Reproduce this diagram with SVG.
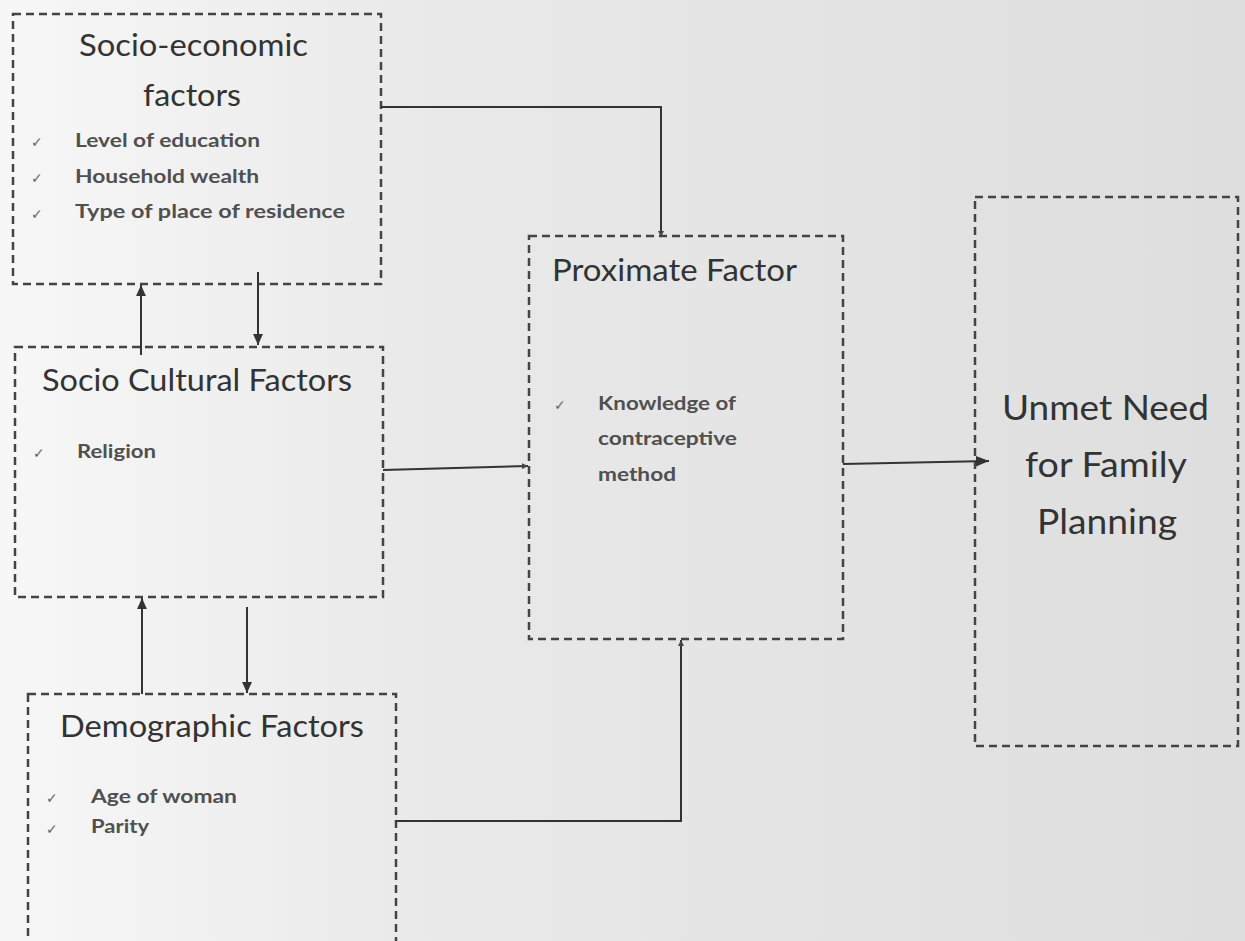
<svg xmlns="http://www.w3.org/2000/svg" width="1245" height="941" viewBox="0 0 1245 941">
<defs>
<linearGradient id="bg" x1="0" y1="0" x2="1" y2="0">
<stop offset="0" stop-color="#f7f7f7"/>
<stop offset="0.35" stop-color="#e9e9e9"/>
<stop offset="1" stop-color="#dedede"/>
</linearGradient>
<marker id="ah" viewBox="0 0 10 10" refX="10" refY="5" markerWidth="11" markerHeight="11" markerUnits="userSpaceOnUse" orient="auto">
<path d="M0,0.5 L10,5 L0,9.5 z" fill="#333"/>
</marker>
<marker id="ahs" viewBox="0 0 10 10" refX="10" refY="5" markerWidth="6" markerHeight="6" markerUnits="userSpaceOnUse" orient="auto">
<path d="M0,0 L10,5 L0,10 z" fill="#444"/>
</marker>
<marker id="ahb" viewBox="0 0 10 10" refX="10" refY="5" markerWidth="13" markerHeight="13" markerUnits="userSpaceOnUse" orient="auto">
<path d="M0,1 L10,5 L0,9 z" fill="#333"/>
</marker>
</defs>
<style>
.box{fill:none;stroke:#444;stroke-width:2.5;stroke-dasharray:8 5}
.title{font-family:Lato,"Liberation Sans",sans-serif;fill:#333;font-size:30px}
.big{font-family:Lato,"Liberation Sans",sans-serif;fill:#333;font-size:35px}
.item{font-family:Lato,"Liberation Sans",sans-serif;fill:#505050;font-size:18px;font-weight:bold}
.chk{font-family:"DejaVu Sans",sans-serif;fill:#666;font-size:14px}
.con{fill:none;stroke:#333;stroke-width:2}
</style>
<rect x="0" y="0" width="1245" height="941" fill="url(#bg)"/>

<g id="socio-economic">
<rect class="box" x="13" y="14" width="368" height="270"/>
<text class="title" x="79" y="56" textLength="229" lengthAdjust="spacingAndGlyphs">Socio-economic</text>
<text class="title" x="143" y="106" textLength="98" lengthAdjust="spacingAndGlyphs">factors</text>
<text class="chk" x="31" y="147">✓</text>
<text class="item" x="75" y="147" textLength="185" lengthAdjust="spacingAndGlyphs">Level of education</text>
<text class="chk" x="31" y="183">✓</text>
<text class="item" x="75" y="183" textLength="184" lengthAdjust="spacingAndGlyphs">Household wealth</text>
<text class="chk" x="31" y="219">✓</text>
<text class="item" x="75" y="218" textLength="270" lengthAdjust="spacingAndGlyphs">Type of place of residence</text>
</g>

<g id="socio-cultural">
<rect class="box" x="15" y="347" width="368" height="250"/>
<text class="title" x="42" y="391" textLength="310" lengthAdjust="spacingAndGlyphs">Socio Cultural Factors</text>
<text class="chk" x="33" y="458">✓</text>
<text class="item" x="77" y="458" textLength="79" lengthAdjust="spacingAndGlyphs">Religion</text>
</g>

<g id="demographic">
<rect class="box" x="28" y="694" width="368" height="260"/>
<text class="title" x="60" y="737" textLength="304" lengthAdjust="spacingAndGlyphs">Demographic Factors</text>
<text class="chk" x="46" y="803">✓</text>
<text class="item" x="91" y="803" textLength="146" lengthAdjust="spacingAndGlyphs">Age of woman</text>
<text class="chk" x="46" y="834">✓</text>
<text class="item" x="91" y="833" textLength="58" lengthAdjust="spacingAndGlyphs">Parity</text>
</g>

<g id="proximate">
<rect class="box" x="529" y="236" width="314" height="403"/>
<text class="title" x="552" y="281" textLength="245" lengthAdjust="spacingAndGlyphs">Proximate Factor</text>
<text class="chk" x="554" y="410">✓</text>
<text class="item" x="598" y="410" textLength="138" lengthAdjust="spacingAndGlyphs">Knowledge of</text>
<text class="item" x="598" y="445" textLength="139" lengthAdjust="spacingAndGlyphs">contraceptive</text>
<text class="item" x="598" y="481" textLength="78" lengthAdjust="spacingAndGlyphs">method</text>
</g>

<g id="unmet-need">
<rect class="box" x="975" y="197" width="263" height="549"/>
<text class="big" x="1002" y="420" textLength="207" lengthAdjust="spacingAndGlyphs">Unmet Need</text>
<text class="big" x="1025" y="477" textLength="162" lengthAdjust="spacingAndGlyphs">for Family</text>
<text class="big" x="1037" y="534" textLength="140" lengthAdjust="spacingAndGlyphs">Planning</text>
</g>

<g id="connectors">
<path class="con" d="M381,107 L661,107 L661,237" marker-end="url(#ahs)"/>
<path class="con" d="M141,355 L141,285" marker-end="url(#ah)"/>
<path class="con" d="M258,272 L258,345" marker-end="url(#ah)"/>
<path class="con" d="M383,470 L528,466" marker-end="url(#ahs)"/>
<path class="con" d="M142,694 L142,598" marker-end="url(#ah)"/>
<path class="con" d="M247,607 L247,693" marker-end="url(#ah)"/>
<path class="con" d="M396,821 L681,821 L681,640" marker-end="url(#ahs)"/>
<path class="con" d="M843,464 L989,461" marker-end="url(#ahb)"/>
</g>
</svg>
